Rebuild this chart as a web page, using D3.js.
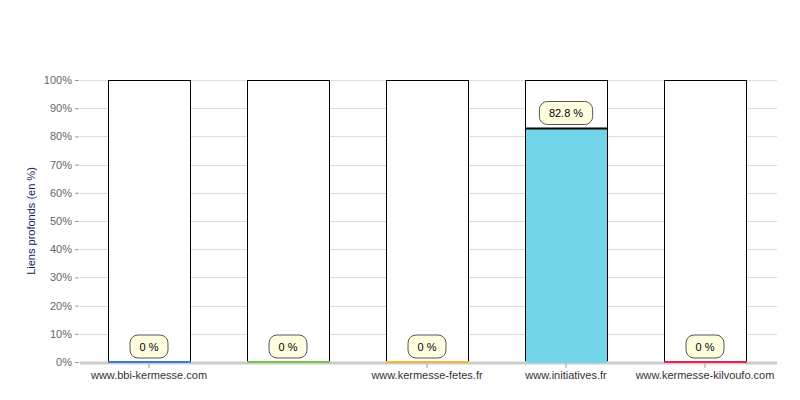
<!DOCTYPE html>
<html><head><meta charset="utf-8">
<script src="https://cdn.jsdelivr.net/npm/d3@7"></script>
<style>body{margin:0;background:#fff}svg{display:block}</style>
</head><body>
<svg id="c" width="800" height="400"></svg>
<script>
const categories = ["www.bbi-kermesse.com", "", "www.kermesse-fetes.fr", "www.initiatives.fr", "www.kermesse-kilvoufo.com"];
const values = [0, 0, 0, 82.8, 0];
const valueLabels = ["0 %", "0 %", "0 %", "82.8 %", "0 %"];
const colors = ["#3a7bd5", "#7ac943", "#f5b82e", "#72d5ea", "#e8254a"];
const yTicks = [0,10,20,30,40,50,60,70,80,90,100];
const yTitle = "Liens profonds (en %)";

(function(){
const svg = d3.select("#c");
const pLeft = 79.5, pRight = 774.5, pTop = 80, pBottom = 362;
const x = d3.scaleBand().domain(d3.range(categories.length)).range([pLeft, pRight]).paddingInner(0.41).paddingOuter(0.205);
const y = d3.scaleLinear().domain([0,100]).range([pBottom, pTop]);
const font = "Arial, 'Liberation Sans', sans-serif";

// grid
svg.append("g").selectAll("line").data(yTicks.filter(d=>d>0)).join("line")
  .attr("x1", 80).attr("x2", 777).attr("y1", d=>Math.round(y(d))+0.5).attr("y2", d=>Math.round(y(d))+0.5)
  .attr("stroke", "#dcdcdc").attr("stroke-width", 1);

// y axis
const ya = svg.append("g").attr("transform", "translate(79,0)")
  .call(d3.axisLeft(y).tickValues(yTicks).tickFormat(d=>d+"%").tickSize(4).tickPadding(3));
ya.select(".domain").remove();
ya.selectAll("line").attr("stroke", "#999");
ya.selectAll("text").attr("fill", "#666").style("font-family", font).style("font-size", "11px");

svg.append("text").attr("transform", "translate(35,221) rotate(-90)")
  .attr("text-anchor", "middle").attr("fill", "#1a1a5e")
  .style("font-family", font).style("font-size", "11px").text(yTitle);

// bars
const g = svg.append("g");
categories.forEach((c,i)=>{
  const bx = Math.round(x(i))+0.5, bw = Math.round(x.bandwidth());
  g.append("rect").attr("x", bx).attr("y", y(100)+0.5).attr("width", bw).attr("height", y(0)-y(100))
    .attr("fill", "#fff").attr("stroke", "#000");
  if (values[i] > 0) {
    g.append("rect").attr("x", bx).attr("y", y(values[i])).attr("width", bw).attr("height", y(0)-y(values[i]))
      .attr("fill", colors[i]).attr("stroke", "#000");
    g.append("line").attr("x1", bx).attr("x2", bx+bw).attr("y1", y(values[i])).attr("y2", y(values[i]))
      .attr("stroke", "#000").attr("stroke-width", 2);
  }
});

// baseline
svg.append("line").attr("x1", 80).attr("x2", 777).attr("y1", 363).attr("y2", 363)
  .attr("stroke", "#cccccc").attr("stroke-width", 3);
categories.forEach((c,i)=>{
  const bx = Math.round(x(i)), bw = Math.round(x.bandwidth());
  svg.append("line").attr("x1", bx).attr("x2", bx+bw+1).attr("y1", 362).attr("y2", 362)
    .attr("stroke", colors[i]).attr("stroke-width", 2);
});

// x axis ticks & labels
const xa = svg.append("g").attr("transform", "translate(0,364)")
  .call(d3.axisBottom(x).tickFormat(i=>categories[i]).tickSize(4).tickPadding(3));
xa.select(".domain").remove();
xa.selectAll(".tick").filter(i=>categories[i]==="").remove();
xa.selectAll("line").attr("stroke", "#999");
xa.selectAll("text").attr("fill", "#333").style("font-family", font).style("font-size", "11px");

// value labels
categories.forEach((c,i)=>{
  const cx = x(i) + x.bandwidth()/2;
  const by = y(values[i]) - 4;
  const t = svg.append("text").attr("x", cx).attr("y", by-7.5).attr("text-anchor", "middle")
    .attr("fill", "#000").style("font-family", font).style("font-size", "11px").text(valueLabels[i]);
  const w = t.node().getComputedTextLength() + 19;
  svg.insert("rect", () => t.node()).attr("x", cx - w/2).attr("y", by-23).attr("width", w).attr("height", 23)
    .attr("rx", 8).attr("fill", "#ffffe0").attr("stroke", "#555");
});
})();
</script>
</body></html>
